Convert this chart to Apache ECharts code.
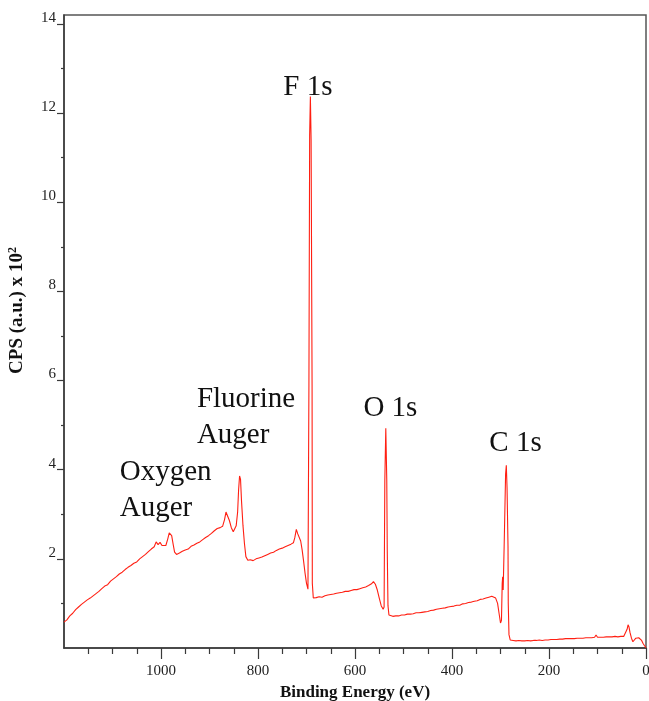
<!DOCTYPE html>
<html>
<head>
<meta charset="utf-8">
<script src="https://cdn.jsdelivr.net/npm/echarts@6/dist/echarts.min.js"></script>
<style>
  html, body { margin: 0; padding: 0; background: #fff; }
  #chart { width: 649px; height: 701px; }
</style>
</head>
<body>
<div id="chart"></div>
<script>
// binding energy (eV) and counts (x 10^2)
const bindingEnergy = [
  1200, 1194, 1188, 1182, 1176, 1170, 1164, 1158, 1152, 1146, 1140, 1134, 1128, 1122, 1116, 1110,
  1104, 1098, 1092, 1086, 1080, 1074, 1068, 1062, 1056, 1050, 1044, 1038, 1032, 1026, 1020, 1014,
  1010, 1006, 1002, 998, 994, 990, 986, 983, 981, 978, 975, 972, 968, 962, 956, 950,
  944, 938, 932, 926, 920, 914, 908, 902, 896, 890, 884, 878, 873, 869, 866, 863,
  859, 855, 851, 848, 845, 842, 840, 838, 836, 834, 831, 828, 825, 821, 816, 810,
  804, 798, 792, 786, 780, 774, 768, 762, 756, 750, 744, 738, 732, 727, 724, 721,
  718, 715, 712, 709, 706, 703, 700, 697, 696, 695, 693.5, 692, 690.5, 688.5, 688, 686,
  680, 674, 668, 662, 656, 650, 644, 638, 632, 626, 620, 614, 608, 602, 596, 590,
  584, 578, 572, 566, 562, 558, 554, 550, 546, 542, 540, 538.5, 536.5, 534.5, 533.5, 532,
  530, 527, 522, 516, 510, 504, 498, 492, 486, 480, 474, 468, 462, 456, 450, 444,
  438, 432, 426, 420, 414, 408, 402, 396, 390, 384, 378, 372, 366, 360, 354, 348,
  342, 336, 330, 324, 318, 314, 310, 306, 303, 300, 298, 296.5, 295.5, 294.5, 292.5, 289.5,
  288, 286.5, 284.5, 284, 282.5, 280, 274, 268, 262, 256, 250, 244, 238, 232, 226, 220,
  214, 208, 202, 196, 190, 184, 178, 172, 166, 160, 157, 154, 148, 142, 136, 130,
  124, 118, 112, 106, 103, 100, 94, 88, 82, 76, 70, 64, 58, 52, 46, 42,
  39, 37, 35, 33, 30, 27, 24, 21, 18, 15, 12, 9, 6, 3, 0
]
const cps = [
  0.58, 0.63, 0.72, 0.78, 0.86, 0.92, 0.98, 1.03, 1.08, 1.12, 1.17, 1.22, 1.27, 1.33, 1.39, 1.42,
  1.50, 1.55, 1.60, 1.66, 1.70, 1.76, 1.81, 1.85, 1.90, 1.93, 2.00, 2.05, 2.10, 2.16, 2.22, 2.27,
  2.38, 2.32, 2.37, 2.30, 2.27, 2.30, 2.45, 2.58, 2.62, 2.52, 2.33, 2.15, 2.10, 2.13, 2.17, 2.20,
  2.22, 2.28, 2.31, 2.35, 2.38, 2.43, 2.48, 2.52, 2.57, 2.63, 2.68, 2.70, 2.73, 2.88, 3.05, 3.02,
  2.86, 2.70, 2.61, 2.64, 2.74, 3.05, 3.55, 3.86, 3.78, 3.30, 2.75, 2.35, 2.05, 1.97, 1.98, 1.96,
  2.00, 2.02, 2.04, 2.07, 2.10, 2.13, 2.15, 2.19, 2.22, 2.24, 2.27, 2.30, 2.33, 2.36, 2.48, 2.66,
  2.56, 2.52, 2.40, 2.20, 1.95, 1.68, 1.45, 1.32, 1.30, 5.90, 11.50, 12.37, 11.40, 5.90, 1.45, 1.12,
  1.13, 1.15, 1.14, 1.17, 1.19, 1.20, 1.21, 1.23, 1.24, 1.25, 1.27, 1.27, 1.29, 1.31, 1.31, 1.33,
  1.35, 1.37, 1.40, 1.44, 1.49, 1.43, 1.30, 1.12, 0.95, 0.87, 0.92, 3.77, 4.93, 3.77, 2.20, 0.95,
  0.74, 0.70, 0.71, 0.72, 0.72, 0.74, 0.74, 0.76, 0.76, 0.77, 0.79, 0.79, 0.80, 0.81, 0.82, 0.84,
  0.85, 0.87, 0.88, 0.89, 0.90, 0.92, 0.93, 0.94, 0.96, 0.96, 0.99, 1.00, 1.02, 1.03, 1.05, 1.06,
  1.09, 1.10, 1.12, 1.14, 1.16, 1.17, 1.12, 1.00, 0.78, 0.56, 0.62, 1.45, 1.60, 1.30, 2.27, 3.90,
  4.10, 3.60, 2.27, 1.00, 0.30, 0.18, 0.17, 0.16, 0.17, 0.16, 0.16, 0.17, 0.16, 0.17, 0.17, 0.18,
  0.17, 0.18, 0.18, 0.19, 0.19, 0.19, 0.20, 0.20, 0.21, 0.21, 0.24, 0.21, 0.21, 0.22, 0.22, 0.22,
  0.23, 0.23, 0.23, 0.24, 0.29, 0.24, 0.24, 0.24, 0.25, 0.25, 0.25, 0.26, 0.25, 0.26, 0.26, 0.30,
  0.42, 0.52, 0.47, 0.35, 0.22, 0.14, 0.18, 0.22, 0.20, 0.23, 0.24, 0.17, 0.10, 0.05, 0.01
]

// axis ticks
const xLabelValues = [0, 200, 400, 600, 800, 1000]
const yLabelValues = [2, 4, 6, 8, 10, 12, 14]

// peak labels: [text, energy, cps, align]
const peakLabels = [
  ['F 1s', 697, 12.58, 'center'],
  ['Fluorine\nAuger', 926, 5.17, 'left'],
  ['Oxygen\nAuger', 1085, 3.54, 'left'],
  ['O 1s', 527, 5.38, 'center'],
  ['C 1s', 269, 4.6, 'center']
]

const serif = '"Liberation Serif", "Times New Roman", serif'
const axisColor = '#3a3a3a'

const chart = echarts.init(document.getElementById('chart'))

const spectrum = bindingEnergy.map((e, i) => [e, cps[i]])

const option = {
  animation: false,
  backgroundColor: '#fff',
  grid: {
    left: 64,
    right: 3,
    top: 15,
    bottom: 53,
    outerBoundsMode: 'none',
    containLabel: false,
    show: true,
    borderColor: '#555',
    borderWidth: 1.5
  },
  xAxis: {
    type: 'value',
    min: 0,
    max: 1200,
    interval: 200,
    inverse: true,
    name: 'Binding Energy (eV)',
    nameLocation: 'middle',
    nameGap: 31,
    nameTextStyle: { fontFamily: serif, fontWeight: 'bold', fontSize: 17, color: '#111' },
    axisLine: { onZero: false, lineStyle: { color: axisColor, width: 1.5 } },
    axisTick: { show: true, length: 11, customValues: xLabelValues, lineStyle: { color: axisColor, width: 1.2 } },
    minorTick: { show: true, splitNumber: 4, length: 6, lineStyle: { color: axisColor, width: 1.2 } },
    axisLabel: {
      customValues: xLabelValues,
      formatter: (v) => String(v),
      margin: 16,
      fontFamily: serif,
      fontSize: 15,
      color: '#222'
    },
    splitLine: { show: false }
  },
  yAxis: {
    type: 'value',
    min: 0,
    max: 14.2,
    interval: 2,
    name: 'CPS (a.u.) x 10{sup|2}',
    nameLocation: 'middle',
    nameGap: 36,
    nameTextStyle: {
      fontFamily: serif,
      fontWeight: 'bold',
      fontSize: 19,
      color: '#111',
      padding: [0, 0, 0, 42],
      rich: {
        sup: { fontFamily: serif, fontWeight: 'bold', fontSize: 12, color: '#111', padding: [0, 0, 9, 0] }
      }
    },
    axisLine: { onZero: false, lineStyle: { color: axisColor, width: 1.5 } },
    axisTick: { show: true, length: 7, customValues: yLabelValues, lineStyle: { color: axisColor, width: 1.2 } },
    minorTick: { show: true, splitNumber: 2, length: 3, lineStyle: { color: axisColor, width: 1.2 } },
    axisLabel: {
      customValues: yLabelValues,
      formatter: (v) => String(v),
      margin: 8,
      verticalAlign: 'bottom',
      lineHeight: 12,
      fontFamily: serif,
      fontSize: 15,
      color: '#222'
    },
    splitLine: { show: false }
  },
  series: [
    {
      type: 'line',
      data: spectrum,
      showSymbol: false,
      lineStyle: { color: '#ff1f12', width: 1.1 },
      markPoint: {
        symbol: 'circle',
        symbolSize: 0,
        silent: true,
        label: {
          show: true,
          position: 'inside',
          fontFamily: serif,
          fontSize: 29,
          lineHeight: 36,
          color: '#111',
          formatter: (p) => p.name
        },
        data: peakLabels.map(([text, e, v, align]) => ({
          name: text,
          coord: [e, v],
          label: { align: align }
        }))
      }
    }
  ]
}

chart.setOption(option)
</script>
</body>
</html>
